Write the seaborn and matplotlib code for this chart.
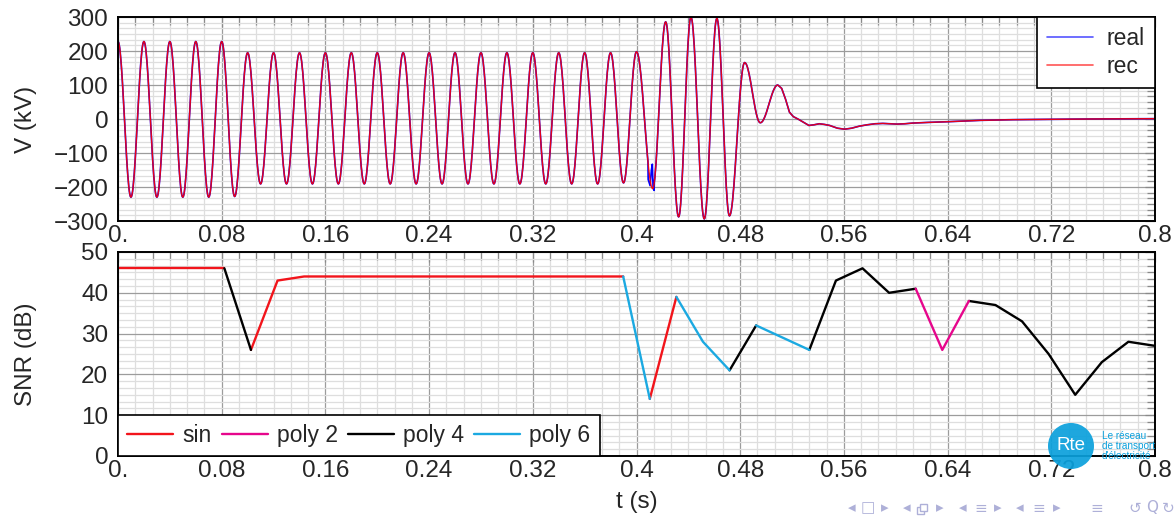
import numpy as np
import pandas as pd
import matplotlib
matplotlib.use("Agg")
import matplotlib.pyplot as plt
import seaborn as sns
from matplotlib.ticker import FixedLocator, AutoMinorLocator
from matplotlib.lines import Line2D
from matplotlib.patches import Circle, Rectangle

# ---------------------------------------------------------------- data
# Voltage waveform: successive extrema (time in s, value in kV)
wave_t = [0.00, 0.01, 0.02, 0.03, 0.04, 0.05, 0.06, 0.07, 0.08, 0.09,
          0.10, 0.11, 0.12, 0.13, 0.14, 0.15, 0.16, 0.17, 0.18, 0.19,
          0.20, 0.21, 0.22, 0.23, 0.24, 0.25, 0.26, 0.27, 0.28, 0.29,
          0.30, 0.31, 0.32, 0.33, 0.34, 0.35, 0.36, 0.37, 0.38, 0.39,
          0.40, 0.4125, 0.4225, 0.4325, 0.442, 0.4523, 0.462, 0.4717,
          0.4834, 0.4955, 0.509]
wave_v = [228, -230, 228, -230, 228, -230, 228, -230, 228, -228,
          195, -191, 195, -191, 195, -191, 195, -191, 195, -191,
          195, -191, 195, -191, 195, -191, 195, -191, 195, -191,
          195, -191, 195, -191, 195, -191, 195, -191, 195, -188,
          198, -205, 286, -288, 300, -294, 296, -285,
          166, -11, 100]

# Slow decay after the fault is cleared (time in s, value in kV)
tail_t = [0.512, 0.515, 0.518, 0.521, 0.525, 0.529, 0.533, 0.537, 0.541,
          0.545, 0.549, 0.555, 0.5605, 0.566, 0.572, 0.578, 0.584, 0.590,
          0.596, 0.601, 0.607, 0.613, 0.625, 0.640, 0.665, 0.690, 0.720,
          0.750, 0.800]
tail_v = [90, 58, 20, 7, -1, -10, -19, -17, -14, -16, -19, -27, -30,
          -27, -21, -17, -14, -13, -14, -15, -14, -12, -10, -8, -4, -2,
          -1, 0, 1]

# Measured signal deviates from the reconstruction around t = 0.412 s
glitch_t = [0.4090, 0.4105, 0.4115, 0.4122, 0.4128, 0.4136]
glitch_v = [-178, -196, -150, -133, -203, -210]

# SNR of the reconstruction, one value per analysis window
snr_t = np.linspace(0.0, 0.8, 40)
snr_db = [46, 46, 46, 46, 46, 26, 43, 44, 44, 44, 44, 44, 44, 44, 44,
          44, 44, 44, 44, 44, 14, 39, 28, 21, 32, 29, 26, 43, 46, 40,
          41, 26, 38, 37, 33, 25, 15, 23, 28, 27]
# model used between consecutive windows
snr_model = (["sin"] * 4 + ["poly 4"] + ["sin"] * 14 + ["poly 6", "sin",
             "poly 6", "poly 6", "poly 4", "poly 6", "poly 6"]
             + ["poly 4"] * 4 + ["poly 2"] * 2 + ["poly 4"] * 7)

x_ticks = [0.0, 0.08, 0.16, 0.24, 0.32, 0.4, 0.48, 0.56, 0.64, 0.72, 0.8]
x_labels = ["0.", "0.08", "0.16", "0.24", "0.32", "0.4", "0.48", "0.56",
            "0.64", "0.72", "0.8"]
v_ticks = [-300, -200, -100, 0, 100, 200, 300]
v_labels = ["\u2212300", "\u2212200", "\u2212100", "0", "100", "200", "300"]
snr_ticks = [0, 10, 20, 30, 40, 50]

model_colors = {"sin": "#F2141B", "poly 2": "#E6068C",
                "poly 4": "#000000", "poly 6": "#1BA9E1"}

# ---------------------------------------------------------------- build curves
def half_cosine(tk, vk, n=24):
    ts, vs = [], []
    for i in range(len(tk) - 1):
        s = np.linspace(0.0, 1.0, n, endpoint=False)
        ts.append(tk[i] + s * (tk[i + 1] - tk[i]))
        vs.append(vk[i] + (vk[i + 1] - vk[i]) * (1 - np.cos(np.pi * s)) / 2)
    ts.append([tk[-1]])
    vs.append([vk[-1]])
    return np.concatenate(ts), np.concatenate(vs)

t_osc, v_osc = half_cosine(wave_t, wave_v)
rec_t = np.concatenate([t_osc, tail_t])
rec_v = np.concatenate([v_osc, tail_v])

before = rec_t < glitch_t[0]
after = rec_t > glitch_t[-1]
real_t = np.concatenate([rec_t[before], glitch_t, rec_t[after]])
real_v = np.concatenate([rec_v[before], glitch_v, rec_v[after]])

volt = pd.concat([
    pd.DataFrame({"t": real_t, "V": real_v, "signal": "real"}),
    pd.DataFrame({"t": rec_t, "V": rec_v, "signal": "rec"}),
], ignore_index=True)

# group consecutive windows using the same model into runs
rows = []
run = 0
for i, m in enumerate(snr_model):
    if i > 0 and m != snr_model[i - 1]:
        run += 1
    rows.append((run, m, snr_t[i], snr_db[i]))
    rows.append((run, m, snr_t[i + 1], snr_db[i + 1]))
snr = pd.DataFrame(rows, columns=["run", "model", "t", "snr"]).drop_duplicates()

# ---------------------------------------------------------------- figure
sns.set_theme(style="white")
plt.rcParams["font.family"] = ["Liberation Sans", "DejaVu Sans"]
plt.rcParams["axes.unicode_minus"] = True

W, H = 1176, 516
fig = plt.figure(figsize=(W / 100, H / 100), dpi=100)
ax1 = fig.add_axes([118 / W, 1 - 221 / H, 1037 / W, 204 / H])
ax2 = fig.add_axes([118 / W, 1 - 456 / H, 1037 / W, 204 / H])

FS = 17.5


def style(ax, yticks, ylabels):
    ax.set_xlim(0, 0.8)
    ax.set_ylim(yticks[0], yticks[-1])
    ax.xaxis.set_major_locator(FixedLocator(x_ticks))
    ax.set_xticklabels(x_labels)
    ax.yaxis.set_major_locator(FixedLocator(yticks))
    ax.set_yticklabels(ylabels)
    ax.xaxis.set_minor_locator(AutoMinorLocator(6))
    ax.yaxis.set_minor_locator(AutoMinorLocator(6))
    ax.grid(which="major", color="#9c9c9c", lw=0.9)
    ax.grid(which="minor", color="#dedede", lw=0.9)
    ax.set_axisbelow(True)
    ax.tick_params(which="both", direction="in", top=True, right=True,
                   color="#8a8a8a", width=0.9)
    ax.tick_params(which="major", length=7)
    ax.tick_params(which="minor", length=6)
    ax.tick_params(axis="x", which="major", pad=3, labelsize=FS)
    ax.tick_params(axis="y", which="major", pad=7, labelsize=FS)
    for sp in ax.spines.values():
        sp.set_color("black")
        sp.set_linewidth(1.4)
    ax.set_xlabel("")
    ax.set_ylabel("")


sns.lineplot(data=volt, x="t", y="V", hue="signal", hue_order=["real", "rec"],
             palette={"real": "#0000FF", "rec": "#FF0000"}, estimator=None,
             sort=False, lw=1.2, legend=False, ax=ax1)
ax1.lines[-1].set_alpha(0.9)
ax1.lines[-1].set_linewidth(1.0)
style(ax1, v_ticks, v_labels)

leg1 = ax1.legend(handles=[Line2D([], [], color="#5555FF", lw=1.2, label="real"),
                           Line2D([], [], color="#FF5555", lw=1.2, label="rec")],
                  loc="upper right", borderaxespad=0, fancybox=False,
                  framealpha=1, edgecolor="black", fontsize=16.5,
                  handlelength=2.0, handletextpad=0.6, borderpad=0.45,
                  labelspacing=0.2)
leg1.get_frame().set_linewidth(1.2)

sns.lineplot(data=snr, x="t", y="snr", hue="model", units="run",
             estimator=None, sort=False, palette=model_colors, lw=1.7,
             legend=False, ax=ax2)
style(ax2, snr_ticks, [str(v) for v in snr_ticks])

leg2 = ax2.legend(handles=[Line2D([], [], color=model_colors[m], lw=1.7, label=m)
                           for m in ["sin", "poly 2", "poly 4", "poly 6"]],
                  loc="lower left", ncol=4, borderaxespad=0, fancybox=False,
                  framealpha=1, edgecolor="black", fontsize=16.5,
                  handlelength=2.0, handletextpad=0.4, columnspacing=0.45,
                  borderpad=0.4)
leg2.get_frame().set_linewidth(1.2)

fig.text(26 / W, 1 - 119 / H, "V (kV)", rotation=90, ha="center",
         va="center", fontsize=FS)
fig.text(26 / W, 1 - 354 / H, "SNR (dB)", rotation=90, ha="center",
         va="center", fontsize=FS)
fig.text(637 / W, 1 - 502 / H, "t (s)", ha="center", va="center",
         fontsize=FS)

# ---------------------------------------------------------------- logo
logo_blue = "#0AA0DC"
fig.add_artist(Circle((1071 / 100, (H - 446) / 100), 0.23,
                      transform=fig.dpi_scale_trans, facecolor=logo_blue,
                      edgecolor="none", alpha=0.92, zorder=5))
fig.text(1071 / W, 1 - 446 / H, "Rte", color="white", fontsize=13.5,
         ha="center", va="center", zorder=6)
for k, line in enumerate(["Le réseau", "de transport", "d'électricité"]):
    fig.text(1102 / W, 1 - (436 + 10 * k) / H, line, color=logo_blue,
             fontsize=7.2, ha="left", va="center", zorder=6)

# ---------------------------------------------------------------- navigation bar
nav_color = "#AEB0D8"
nav = [(852, "\u25C2"), (868, "\u25A1"), (885, "\u25B8"), (907, "\u25C2"),
       (940, "\u25B8"), (963, "\u25C2"), (981, "\u2261"),
       (998, "\u25B8"), (1020, "\u25C2"), (1039, "\u2261"), (1057, "\u25B8"),
       (1097, "\u2261"), (1135, "\u21BA"), (1152, "Q"), (1168, "\u21BB")]
for x, s in nav:
    fig.text(x / W, 1 - 508 / H, s, color=nav_color, fontsize=11,
             ha="center", va="center", family=["DejaVu Sans"])
# stacked-frames icon drawn as two offset squares
for dx, dy in [(0, 0), (3, 3)]:
    fig.add_artist(Rectangle(((917 + dx) / 100, (H - 514 + dy) / 100),
                             0.07, 0.07, transform=fig.dpi_scale_trans,
                             facecolor="white", edgecolor=nav_color,
                             lw=1.0, zorder=6))

fig.savefig("out.png", dpi=100)
